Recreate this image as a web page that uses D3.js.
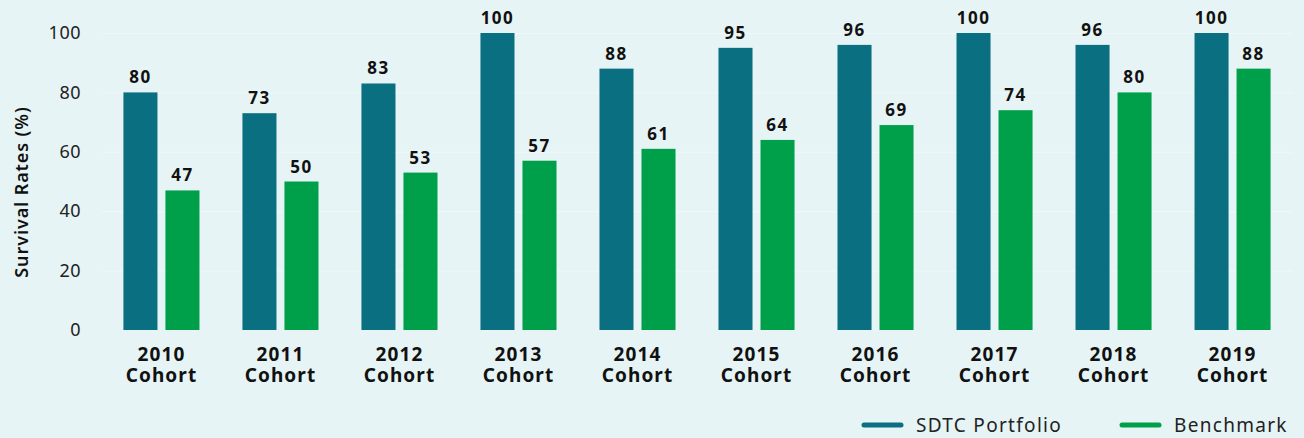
<!DOCTYPE html>
<html>
<head>
<meta charset="utf-8">
<script src="https://cdn.jsdelivr.net/npm/d3@7"></script>
<style>
  html, body { margin: 0; padding: 0; background: #e6f4f5; }
  svg { display: block; font-family: "Noto Sans", sans-serif; }
</style>
</head>
<body>
<div id="wrapper"></div>
<script>
const years = ['2010', '2011', '2012', '2013', '2014', '2015', '2016', '2017', '2018', '2019'];
const seriesNames = ['SDTC Portfolio', 'Benchmark'];
const sdtcValues = [80, 73, 83, 100, 88, 95, 96, 100, 96, 100];
const benchmarkValues = [47, 50, 53, 57, 61, 64, 69, 74, 80, 88];
const yTicks = [0, 20, 40, 60, 80, 100];
const colors = ['#0b6f82', '#00a04b'];

function drawChart() {
    const dimensions = {
        width: 1304,
        height: 438,
        margin: { top: 33, right: 12, bottom: 108, left: 102 }
    };
    dimensions.boundedWidth = dimensions.width - dimensions.margin.left - dimensions.margin.right;
    dimensions.boundedHeight = dimensions.height - dimensions.margin.top - dimensions.margin.bottom;

    const dataset = years.map((y, i) => ({ year: y, values: [sdtcValues[i], benchmarkValues[i]] }));

    const wrapper = d3.select('#wrapper')
        .append('svg')
        .attr('width', dimensions.width)
        .attr('height', dimensions.height);

    wrapper.append('rect')
        .attr('width', dimensions.width)
        .attr('height', dimensions.height)
        .attr('fill', '#e6f4f5');

    const bounds = wrapper.append('g')
        .attr('transform', `translate(${dimensions.margin.left},${dimensions.margin.top})`);

    // scales
    const xScale = d3.scaleBand()
        .domain(years)
        .range([0, 119 * years.length])
        .paddingInner(0.361)
        .paddingOuter(0.18);
    const subScale = d3.scaleBand()
        .domain(seriesNames)
        .range([0, xScale.bandwidth()])
        .paddingInner(0.19);
    const yScale = d3.scaleLinear()
        .domain([0, 100])
        .range([dimensions.boundedHeight, 0]);

    // faint gridlines
    bounds.append('g')
        .selectAll('line')
        .data(yTicks.slice(1))
        .join('line')
        .attr('x1', 0)
        .attr('x2', dimensions.boundedWidth)
        .attr('y1', d => yScale(d) + 0.5)
        .attr('y2', d => yScale(d) + 0.5)
        .attr('stroke', '#eef9f9')
        .attr('stroke-width', 1);

    // bars
    const groups = bounds.selectAll('.group')
        .data(dataset)
        .join('g')
        .attr('class', 'group')
        .attr('transform', d => `translate(${xScale(d.year)},0)`);

    groups.selectAll('rect')
        .data(d => d.values.map((v, i) => ({ key: seriesNames[i], value: v, i })))
        .join('rect')
        .attr('x', d => subScale(d.key))
        .attr('y', d => yScale(d.value))
        .attr('width', subScale.bandwidth())
        .attr('height', d => dimensions.boundedHeight - yScale(d.value))
        .attr('fill', d => colors[d.i]);

    groups.selectAll('text.value')
        .data(d => d.values.map((v, i) => ({ key: seriesNames[i], value: v })))
        .join('text')
        .attr('class', 'value')
        .attr('x', d => subScale(d.key) + subScale.bandwidth() / 2)
        .attr('y', d => yScale(d.value) - 9)
        .attr('text-anchor', 'middle')
        .attr('font-size', 17)
        .attr('font-weight', 700)
        .attr('letter-spacing', 1.5)
        .attr('fill', '#111')
        .text(d => d.value);

    // x axis labels
    const xAxis = bounds.append('g')
        .attr('transform', `translate(0,${dimensions.boundedHeight})`);
    const xLabels = xAxis.selectAll('text')
        .data(years)
        .join('text')
        .attr('x', d => xScale(d) + xScale.bandwidth() / 2)
        .attr('y', 31)
        .attr('text-anchor', 'middle')
        .attr('font-size', 19)
        .attr('font-weight', 700)
        .attr('letter-spacing', 1.1)
        .attr('fill', '#111');
    xLabels.append('tspan').attr('x', d => xScale(d) + xScale.bandwidth() / 2).text(d => d);
    xLabels.append('tspan').attr('x', d => xScale(d) + xScale.bandwidth() / 2).attr('dy', 21).text('Cohort');

    // y axis
    const yAxisGenerator = d3.axisLeft(yScale)
        .tickValues(yTicks)
        .tickSize(0)
        .tickPadding(21);
    const yAxis = bounds.append('g').call(yAxisGenerator);
    yAxis.select('.domain').remove();
    yAxis.selectAll('text')
        .attr('font-size', 18)
        .attr('letter-spacing', 0.5)
        .attr('font-family', '"Noto Sans", sans-serif')
        .attr('fill', '#222');

    wrapper.append('text')
        .attr('transform', `translate(28,${dimensions.margin.top + 159}) rotate(-90)`)
        .attr('text-anchor', 'middle')
        .attr('font-size', 18)
        .attr('font-weight', 600)
        .attr('letter-spacing', 0.9)
        .attr('fill', '#111')
        .text('Survival Rates (%)');

    // legend
    const legendX = [862, 1120];
    const legend = wrapper.append('g')
        .selectAll('g')
        .data(seriesNames)
        .join('g')
        .attr('transform', (d, i) => `translate(${legendX[i]},425)`);
    legend.append('line')
        .attr('x1', 2).attr('x2', 39)
        .attr('y1', 0).attr('y2', 0)
        .attr('stroke', (d, i) => colors[i])
        .attr('stroke-width', 5)
        .attr('stroke-linecap', 'round');
    legend.append('text')
        .attr('x', 54)
        .attr('y', 7)
        .attr('font-size', 19)
        .attr('letter-spacing', 1.3)
        .attr('fill', '#222')
        .text(d => d);
}

drawChart();
</script>
</body>
</html>
